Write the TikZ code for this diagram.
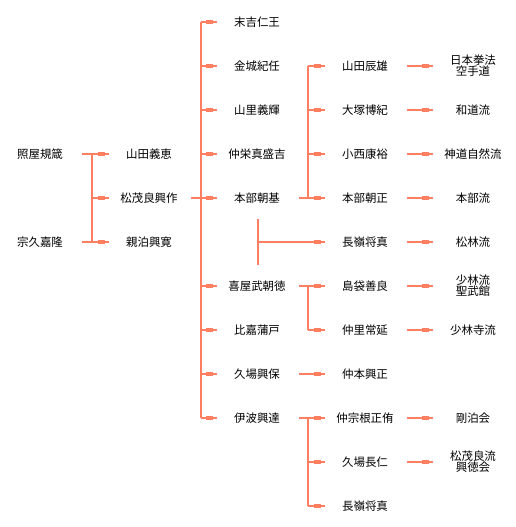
\documentclass[tikz,border=0pt]{standalone}
\usepackage{fontspec}
\newfontfamily\cjk{Noto Sans CJK JP}
\usetikzlibrary{decorations.markings}
\definecolor{lc}{HTML}{FF7F60}
\begin{document}
\begin{tikzpicture}[x=0.75pt,y=-0.75pt,
 nd/.style={inner sep=0pt, minimum width=60pt, minimum height=12pt, align=center, font={\cjk\fontsize{8.6pt}{8.3pt}\selectfont}},
 ln/.style={draw=lc, line width=0.8pt},
 ar/.style={ln, postaction={decorate}, decoration={markings, mark=at position 1 with {\fill[lc] (-8.25pt,-1.6pt) rectangle (-3pt,1.6pt);}}}]
\useasboundingbox (0,0) rectangle (515,527);
% column 0
\node[nd] (a1) at (40,154) {照屋規箴};
\node[nd] (a2) at (40,242) {宗久嘉隆};
% column 1
\node[nd] (b1) at (149,154) {山田義恵};
\node[nd] (b2) at (149,198) {松茂良興作};
\node[nd] (b3) at (149,242) {親泊興寛};
% column 2
\node[nd] (c1) at (257,22) {末吉仁王};
\node[nd] (c2) at (257,66) {金城紀任};
\node[nd] (c3) at (257,110) {山里義輝};
\node[nd] (c4) at (257,154) {仲栄真盛吉};
\node[nd] (c5) at (257,198) {本部朝基};
\node[nd] (c6) at (257,286) {喜屋武朝徳};
\node[nd] (c7) at (257,330) {比嘉蒲戸};
\node[nd] (c8) at (257,374) {久場興保};
\node[nd] (c9) at (257,418) {伊波興達};
% column 3
\node[nd] (d1) at (365,66) {山田辰雄};
\node[nd] (d2) at (365,110) {大塚博紀};
\node[nd] (d3) at (365,154) {小西康裕};
\node[nd] (d4) at (365,198) {本部朝正};
\node[nd] (d5) at (365,242) {長嶺将真};
\node[nd] (d6) at (365,286) {島袋善良};
\node[nd] (d7) at (365,330) {仲里常延};
\node[nd] (d8) at (365,374) {仲本興正};
\node[nd] (d9) at (365,418) {仲宗根正侑};
\node[nd] (d10) at (365,462) {久場長仁};
\node[nd] (d11) at (365,506) {長嶺将真};
% column 4
\node[nd] (e1) at (473,66) {日本拳法\\空手道};
\node[nd] (e2) at (473,110) {和道流};
\node[nd] (e3) at (473,154) {神道自然流};
\node[nd] (e4) at (473,198) {本部流};
\node[nd] (e5) at (473,242) {松林流};
\node[nd] (e6) at (473,286) {少林流\\聖武館};
\node[nd] (e7) at (473,330) {少林寺流};
\node[nd] (e9) at (473,418) {剛泊会};
\node[nd] (e10) at (473,462) {松茂良流\\興徳会};
% bus coordinates
\coordinate (p0) at (92,0);
\coordinate (p1) at (201,0);
\coordinate (p2) at (308,0);
\coordinate (qt) at (258,219);
\coordinate (qb) at (258,265);
% column 0 -> 1
\draw[ln] (a1.east-|p0) -- (a2.east-|p0);
\draw[ln] ([xshift=1.5pt]a1.east) -- (a1.east-|p0);
\draw[ln] ([xshift=1.5pt]a2.east) -- (a2.east-|p0);
\foreach \n in {b1,b2,b3} \draw[ar] (\n.west-|p0) -- (\n.west);
% column 1 -> 2
\draw[ln] (c1.west-|p1) -- (c9.west-|p1);
\draw[ln] ([xshift=1.5pt]b2.east) -- (b2.east-|p1);
\foreach \n in {c1,c2,c3,c4,c5,c6,c7,c8,c9} \draw[ar] (\n.west-|p1) -- (\n.west);
% column 2 -> 3
\draw[ln] (d1.west-|p2) -- (d4.west-|p2);
\draw[ln] ([xshift=1.5pt]c5.east) -- (c5.east-|p2);
\foreach \n in {d1,d2,d3,d4} \draw[ar] (\n.west-|p2) -- (\n.west);
\draw[ln] (qt) -- (qb);
\draw[ar] (qt|-d5.west) -- (d5.west);
\draw[ln] (d6.west-|p2) -- (d7.west-|p2);
\draw[ln] ([xshift=1.5pt]c6.east) -- (c6.east-|p2);
\foreach \n in {d6,d7} \draw[ar] (\n.west-|p2) -- (\n.west);
\draw[ar] ([xshift=1.5pt]c8.east) -- (d8.west);
\draw[ln] (d9.west-|p2) -- (d11.west-|p2);
\draw[ln] ([xshift=1.5pt]c9.east) -- (c9.east-|p2);
\foreach \n in {d9,d10,d11} \draw[ar] (\n.west-|p2) -- (\n.west);
% column 3 -> 4
\draw[ar] ([xshift=1.5pt]d1.east) -- (e1.west);
\draw[ar] ([xshift=1.5pt]d2.east) -- (e2.west);
\draw[ar] ([xshift=1.5pt]d3.east) -- (e3.west);
\draw[ar] ([xshift=1.5pt]d4.east) -- (e4.west);
\draw[ar] ([xshift=1.5pt]d5.east) -- (e5.west);
\draw[ar] ([xshift=1.5pt]d6.east) -- (e6.west);
\draw[ar] ([xshift=1.5pt]d7.east) -- (e7.west);
\draw[ar] ([xshift=1.5pt]d9.east) -- (e9.west);
\draw[ar] ([xshift=1.5pt]d10.east) -- (e10.west);
\end{tikzpicture}
\end{document}
